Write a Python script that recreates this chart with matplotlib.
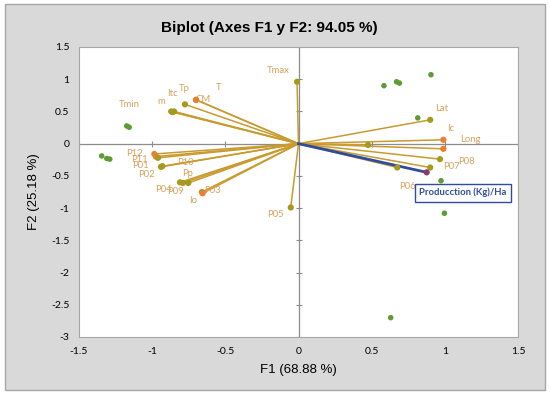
import numpy as np
import matplotlib.pyplot as plt
from matplotlib.patches import Rectangle

# variables (loadings) shown as vectors from the origin
var_names = ['Tmax', 'T', 'CM', 'Tp', 'Itc', 'm', 'Tmin',
             'P12', 'P11', 'P10', 'P01', 'P02', 'Pp', 'P04', 'P09', 'P03', 'Io', 'P05',
             'Lat', 'Ic', 'Long', 'P08', 'P07', 'P06', '']
var_x = [-0.01, -0.70, -0.70, -0.776, -0.85, -0.86, -0.87,
         -0.985, -0.974, -0.96, -0.94, -0.93, -0.753, -0.81, -0.79, -0.66, -0.655, -0.053,
         0.90, 0.99, 0.99, 0.967, 0.90, 0.675, 0.475]
var_y = [0.96, 0.68, 0.68, 0.61, 0.50, 0.49, 0.50,
         -0.16, -0.20, -0.22, -0.36, -0.35, -0.61, -0.60, -0.61, -0.75, -0.77, -0.99,
         0.37, 0.06, -0.08, -0.24, -0.37, -0.37, -0.02]
var_orange = ['CM', 'P12', 'P11', 'Io', 'Ic', 'Long']

# supplementary variable
prod_name = 'Producction (Kg)/Ha'
prod_x, prod_y = 0.876, -0.445

# observations
obs_x = [0.905, 0.584, 0.67, 0.69, 0.815, 0.974, 0.997, 0.63,
         -1.174, -1.157, -1.345, -1.31, -1.29]
obs_y = [1.07, 0.90, 0.96, 0.94, 0.40, -0.575, -1.08, -2.70,
         0.275, 0.255, -0.19, -0.23, -0.24]

# label positions (layout only)
label_pos = {
    'Tmax': (-0.139, 1.13), 'T': (-0.543, 0.866), 'CM': (-0.655, 0.68),
    'Tp': (-0.783, 0.85), 'Itc': (-0.86, 0.78), 'm': (-0.935, 0.65),
    'Tmin': (-1.159, 0.61), 'P12': (-1.118, -0.15), 'P11': (-1.09, -0.245),
    'P10': (-0.776, -0.29), 'P01': (-1.083, -0.34), 'P02': (-1.038, -0.48),
    'Pp': (-0.755, -0.46), 'P04': (-0.925, -0.71), 'P09': (-0.84, -0.75),
    'P03': (-0.59, -0.73), 'Io': (-0.72, -0.885), 'P05': (-0.156, -1.096),
    'Lat': (0.979, 0.54), 'Ic': (1.042, 0.24), 'Long': (1.172, 0.07),
    'P08': (1.145, -0.27), 'P07': (1.047, -0.357), 'P06': (0.744, -0.67),
}

xticks = [-1.5, -1, -0.5, 0, 0.5, 1, 1.5]
yticks = [-3, -2.5, -2, -1.5, -1, -0.5, 0, 0.5, 1, 1.5]

LINE_C = '#C99A2E'
OLIVE = '#A69A1E'
ORANGE = '#EE7D2E'
LABEL_C = '#D8A15C'
GREEN = '#5E9C35'
BLUE = '#2F4C9E'

fig = plt.figure(figsize=(5.5, 3.95), dpi=100, facecolor='white')
fig.patches.append(Rectangle((5 / 550, 5 / 395), 540 / 550, 386 / 395,
                             transform=fig.transFigure, facecolor='#D9D9D9',
                             edgecolor='#A6A6A6', linewidth=1.0, zorder=-10))

ax = fig.add_axes([79 / 550, 1 - 337 / 395, 439 / 550, 290 / 395])
ax.set_facecolor('white')
ax.set_xlim(-1.5, 1.5)
ax.set_ylim(-3, 1.5)

# axis lines through the origin with tick marks
ax.axhline(0, color='#8C8C8C', lw=0.9, zorder=1)
ax.axvline(0, color='#8C8C8C', lw=0.9, zorder=1)
ax.plot(xticks, [0] * len(xticks), ls='none', marker='|', ms=4, mew=0.8, color='#8C8C8C', zorder=1)
ax.plot([0] * len(yticks), yticks, ls='none', marker='_', ms=4, mew=0.8, color='#8C8C8C', zorder=1)

# observations
ax.scatter(obs_x, obs_y, s=16, color=GREEN, zorder=3, edgecolors='none')

# variable vectors
for name, x, y in zip(var_names, var_x, var_y):
    ax.plot([0, x], [0, y], color=LINE_C, lw=1.1, zorder=2)
for name, x, y in zip(var_names, var_x, var_y):
    if name in label_pos:
        lx, ly = label_pos[name]
        ax.text(lx, ly, name, color=LABEL_C, fontsize=6.8, family='Lato',
                ha='center', va='center', zorder=3)
for name, x, y in zip(var_names, var_x, var_y):
    c = ORANGE if name in var_orange else OLIVE
    ax.scatter([x], [y], s=20, color=c, zorder=4, edgecolors='none')

# supplementary variable
ax.plot([0, prod_x], [0, prod_y], color=BLUE, lw=2.0, zorder=3)
ax.scatter([prod_x], [prod_y], s=20, color='#8B3A6E', zorder=5, edgecolors='none')
ax.text(1.122, -0.76, prod_name, color=BLUE, fontsize=6.8, family='Lato',
        fontweight='bold', ha='center', va='center', zorder=6,
        bbox=dict(boxstyle='square,pad=0.45', facecolor='white', edgecolor=BLUE, lw=1.0))

ax.set_xticks(xticks)
ax.set_yticks(yticks)
ax.set_xticklabels([f'{t:g}' for t in xticks], family='Lato', fontsize=7.5)
ax.set_yticklabels([f'{t:g}' for t in yticks], family='Lato', fontsize=7.5)
ax.tick_params(length=0, pad=7)
for s in ax.spines.values():
    s.set_color('#A6A6A6')
    s.set_linewidth(0.8)

ax.set_xlabel('F1 (68.88 %)', family='Liberation Sans', fontsize=9.5, labelpad=6)
ax.set_ylabel('F2 (25.18 %)', family='Liberation Sans', fontsize=9.5, labelpad=8)
fig.text(0.49, 1 - 28 / 395, 'Biplot (Axes F1 y F2: 94.05 %)', family='Liberation Sans',
         fontsize=11, fontweight='bold', ha='center', va='center')

fig.savefig('out.png', dpi=100)
